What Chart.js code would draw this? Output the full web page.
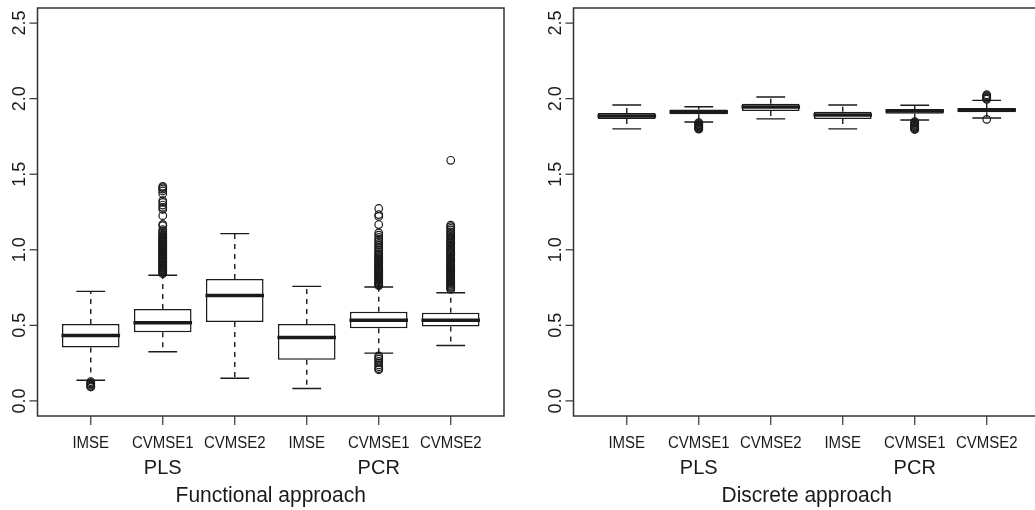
<!DOCTYPE html>
<html>
<head>
<meta charset="utf-8">
<script src="https://cdn.jsdelivr.net/npm/chart.js@4.4.1/dist/chart.umd.min.js"></script>
<style>
	html, body { margin: 0; padding: 0; background: #fff; overflow: hidden; width: 1035px; height: 510px; }
	canvas { position: absolute; top: 0; }
	#funcChart { left: 0; }
	#discChart { left: 536px; }
</style>
</head>
<body>
<canvas id="funcChart" width="520" height="510"></canvas>
<canvas id="discChart" width="520" height="510"></canvas>
<script>
const categories = ['IMSE', 'CVMSE1', 'CVMSE2', 'IMSE', 'CVMSE1', 'CVMSE2'];
const methods = ['PLS', 'PCR'];
const methodPos = [2, 5];
const yTicks = [0, 0.5, 1, 1.5, 2, 2.5];

// functional approach
const funcLowWhisker = [0.137, 0.325, 0.150, 0.082, 0.316, 0.367];
const funcQ1 = [0.354, 0.455, 0.522, 0.272, 0.480, 0.493];
const funcMedian = [0.433, 0.517, 0.698, 0.420, 0.533, 0.533];
const funcQ3 = [0.508, 0.608, 0.807, 0.508, 0.590, 0.584];
const funcHighWhisker = [0.725, 0.831, 1.107, 0.758, 0.754, 0.716];
const funcOutliers = [
	[0.128, 0.119, 0.111, 0.104, 0.097, 0.092],
	[0.842, 0.848, 0.855, 0.861, 0.866, 0.872, 0.879, 0.884, 0.891, 0.897, 0.903, 0.909, 0.916, 0.922,
	 0.927, 0.934, 0.941, 0.946, 0.952, 0.958, 0.965, 0.971, 0.977, 0.984, 0.990, 0.996, 1.003, 1.009,
	 1.016, 1.022, 1.028, 1.035, 1.041, 1.048, 1.055, 1.062, 1.068, 1.074, 1.082, 1.089, 1.097, 1.104,
	 1.112, 1.125, 1.134, 1.160, 1.168, 1.226, 1.268, 1.281, 1.296, 1.314, 1.325, 1.371, 1.389, 1.402,
	 1.411, 1.419],
	[],
	[],
	[0.298, 0.287, 0.276, 0.262, 0.251, 0.238, 0.226, 0.214, 0.206,
	 0.762, 0.768, 0.775, 0.781, 0.788, 0.795, 0.801, 0.808, 0.816, 0.822, 0.829, 0.836, 0.842, 0.850,
	 0.857, 0.864, 0.871, 0.878, 0.886, 0.893, 0.901, 0.908, 0.915, 0.923, 0.931, 0.940, 0.948, 0.957,
	 0.966, 0.974, 0.985, 0.996, 1.008, 1.019, 1.031, 1.043, 1.056, 1.068, 1.082, 1.097, 1.112, 1.167,
	 1.221, 1.233, 1.273],
	[0.738, 0.744, 0.751, 0.757, 0.764, 0.771, 0.777, 0.784, 0.791, 0.798, 0.805, 0.812, 0.819, 0.826,
	 0.833, 0.840, 0.848, 0.855, 0.862, 0.869, 0.877, 0.884, 0.892, 0.899, 0.906, 0.914, 0.922, 0.929,
	 0.937, 0.944, 0.952, 0.960, 0.968, 0.975, 0.983, 0.991, 0.999, 1.007, 1.016, 1.024, 1.033, 1.042,
	 1.051, 1.060, 1.069, 1.079, 1.089, 1.099, 1.109, 1.119, 1.131, 1.142, 1.153, 1.163, 1.592]
];

// discrete approach
const discLowWhisker = [1.800, 1.846, 1.866, 1.800, 1.859, 1.872];
const discQ1 = [1.866, 1.897, 1.918, 1.866, 1.901, 1.910];
const discMedian = [1.886, 1.912, 1.945, 1.892, 1.918, 1.925];
const discQ3 = [1.905, 1.928, 1.967, 1.914, 1.932, 1.938];
const discHighWhisker = [1.958, 1.947, 2.011, 1.958, 1.956, 1.989];
const discOutliers = [
	[],
	[1.842, 1.836, 1.830, 1.825, 1.820, 1.815, 1.810, 1.806, 1.802, 1.798],
	[],
	[],
	[1.848, 1.842, 1.836, 1.830, 1.824, 1.818, 1.812, 1.806, 1.800, 1.796],
	[2.026, 2.020, 2.014, 2.008, 2.002, 1.996, 1.863]
];

const INK = '#1a1a1a';
const FONT = '"Liberation Sans", Arial, Helvetica, sans-serif';

// horizontal text in the original is a bit taller than wide
function tallText(ctx, text, x, y, stretch) {
	ctx.save();
	ctx.translate(x, y);
	ctx.scale(1, stretch);
	ctx.fillText(text, 0, 0);
	ctx.restore();
}

function makeBoxPlot(id, title, lowW, q1, med, q3, highW, outliers) {
	const boxes = q1.map((v, i) => ({ x: i + 1, y: [v, q3[i]] }));
	const points = [];
	outliers.forEach((list, i) => list.forEach(v => points.push({ x: i + 1, y: v })));

	const boxPlugin = {
		id: 'boxExtras',
		beforeDatasetsDraw(chart) {
			const { ctx, scales: { x, y } } = chart;
			ctx.save();
			ctx.strokeStyle = INK;
			ctx.lineWidth = 1.4;
			// whiskers (dashed) and staples
			for (let i = 0; i < q1.length; i++) {
				const cx = x.getPixelForValue(i + 1);
				const half = (x.getPixelForValue(i + 1.2) - cx);
				ctx.setLineDash([5, 5]);
				ctx.beginPath();
				ctx.moveTo(cx, y.getPixelForValue(q3[i]));
				ctx.lineTo(cx, y.getPixelForValue(highW[i]));
				ctx.moveTo(cx, y.getPixelForValue(q1[i]));
				ctx.lineTo(cx, y.getPixelForValue(lowW[i]));
				ctx.stroke();
				ctx.setLineDash([]);
				ctx.beginPath();
				ctx.moveTo(cx - half, y.getPixelForValue(highW[i]));
				ctx.lineTo(cx + half, y.getPixelForValue(highW[i]));
				ctx.moveTo(cx - half, y.getPixelForValue(lowW[i]));
				ctx.lineTo(cx + half, y.getPixelForValue(lowW[i]));
				ctx.stroke();
			}
			ctx.restore();
		},
		afterDatasetsDraw(chart) {
			const { ctx, chartArea: a, scales: { x, y } } = chart;
			ctx.save();
			// medians
			ctx.strokeStyle = INK;
			ctx.lineWidth = 3.5;
			for (let i = 0; i < med.length; i++) {
				const l = x.getPixelForValue(i + 0.6) - 0.5;
				const r = x.getPixelForValue(i + 1.4) + 0.5;
				const py = y.getPixelForValue(med[i]);
				ctx.beginPath();
				ctx.moveTo(l, py);
				ctx.lineTo(r, py);
				ctx.stroke();
			}
			// frame
			ctx.strokeStyle = '#333';
			ctx.lineWidth = 1.5;
			ctx.strokeRect(a.left, a.top, a.right - a.left, a.bottom - a.top);
			// y ticks and rotated labels
			ctx.lineWidth = 1.2;
			ctx.fillStyle = INK;
			ctx.font = '18px ' + FONT;
			ctx.textAlign = 'center';
			ctx.textBaseline = 'alphabetic';
			yTicks.forEach(v => {
				const py = y.getPixelForValue(v);
				ctx.beginPath();
				ctx.moveTo(a.left - 8, py);
				ctx.lineTo(a.left, py);
				ctx.stroke();
				ctx.save();
				ctx.translate(a.left - 12.5, py);
				ctx.rotate(-Math.PI / 2);
				ctx.fillText(v.toFixed(1), 0, 0);
				ctx.restore();
			});
			// x ticks and labels
			ctx.font = '15px ' + FONT;
			categories.forEach((c, i) => {
				const px = x.getPixelForValue(i + 1);
				ctx.beginPath();
				ctx.moveTo(px, a.bottom);
				ctx.lineTo(px, a.bottom + 9);
				ctx.stroke();
				tallText(ctx, c, px, 448, 1.1);
			});
			ctx.font = '20px ' + FONT;
			methods.forEach((m, i) => {
				tallText(ctx, m, x.getPixelForValue(methodPos[i]), 473.5, 1.05);
			});
			ctx.font = '21px ' + FONT;
			tallText(ctx, title, (a.left + a.right) / 2, 502, 1.05);
			ctx.restore();
		}
	};

	return new Chart(document.getElementById(id), {
		type: 'bar',
		data: {
			datasets: [{
				type: 'bar',
				data: boxes,
				backgroundColor: '#ffffff',
				borderColor: INK,
				borderWidth: 1.5,
				borderSkipped: false,
				categoryPercentage: 1,
				barPercentage: 0.8,
				order: 2
			}, {
				type: 'scatter',
				data: points,
				showLine: false,
				pointRadius: 3.8,
				pointBorderWidth: 1.2,
				pointBackgroundColor: 'rgba(0,0,0,0)',
				pointBorderColor: INK,
				order: 1
			}]
		},
		options: {
			responsive: false,
			animation: false,
			devicePixelRatio: 1,
			layout: { padding: { left: 37.5, right: 16, top: 8, bottom: 94 } },
			scales: {
				x: {
					type: 'linear', min: 0.26, max: 6.74, offset: false, display: false,
					// one tick per box so bar widths come from the box spacing
					afterBuildTicks: s => { s.ticks = categories.map((c, i) => ({ value: i + 1 })); }
				},
				y: { type: 'linear', min: -0.1, max: 2.6, display: false }
			},
			plugins: {
				legend: { display: false },
				tooltip: { enabled: false }
			}
		},
		plugins: [boxPlugin]
	});
}

makeBoxPlot('funcChart', 'Functional approach', funcLowWhisker, funcQ1, funcMedian, funcQ3, funcHighWhisker, funcOutliers);
makeBoxPlot('discChart', 'Discrete approach', discLowWhisker, discQ1, discMedian, discQ3, discHighWhisker, discOutliers);
</script>
</body>
</html>
